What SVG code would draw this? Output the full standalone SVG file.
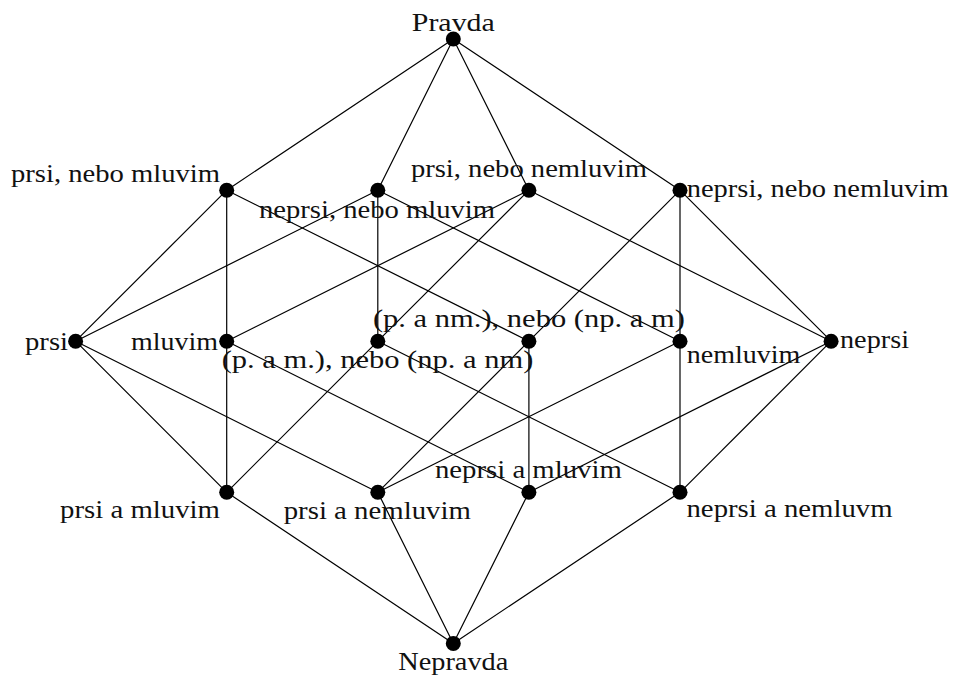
<svg xmlns="http://www.w3.org/2000/svg" width="956" height="677" viewBox="0 0 956 677">
<style>
.e{stroke:#000;stroke-width:1.2;fill:none;stroke-linecap:round}
.d{fill:#000}
text{font-family:"Liberation Serif","DejaVu Serif",serif;font-size:26px;fill:#111}
.m{text-anchor:middle}
.s{text-anchor:start}
</style>
<rect width="956" height="677" fill="#fff"/>
<g id="connectors">
<line class="e" x1="453.3" y1="39" x2="226.7" y2="190.2"/>
<line class="e" x1="453.3" y1="39" x2="377.8" y2="190.2"/>
<line class="e" x1="453.3" y1="39" x2="528.9" y2="190.2"/>
<line class="e" x1="453.3" y1="39" x2="680" y2="190.2"/>
<line class="e" x1="226.7" y1="190.2" x2="75.6" y2="341.2"/>
<line class="e" x1="226.7" y1="190.2" x2="226.7" y2="341.2"/>
<line class="e" x1="226.7" y1="190.2" x2="528.9" y2="341.2"/>
<line class="e" x1="377.8" y1="190.2" x2="75.6" y2="341.2"/>
<line class="e" x1="377.8" y1="190.2" x2="377.8" y2="341.2"/>
<line class="e" x1="377.8" y1="190.2" x2="680" y2="341.2"/>
<line class="e" x1="528.9" y1="190.2" x2="226.7" y2="341.2"/>
<line class="e" x1="528.9" y1="190.2" x2="377.8" y2="341.2"/>
<line class="e" x1="528.9" y1="190.2" x2="831.1" y2="341.2"/>
<line class="e" x1="680" y1="190.2" x2="528.9" y2="341.2"/>
<line class="e" x1="680" y1="190.2" x2="680" y2="341.2"/>
<line class="e" x1="680" y1="190.2" x2="831.1" y2="341.2"/>
<line class="e" x1="75.6" y1="341.2" x2="226.7" y2="492.3"/>
<line class="e" x1="75.6" y1="341.2" x2="377.8" y2="492.3"/>
<line class="e" x1="226.7" y1="341.2" x2="226.7" y2="492.3"/>
<line class="e" x1="226.7" y1="341.2" x2="528.9" y2="492.3"/>
<line class="e" x1="377.8" y1="341.2" x2="226.7" y2="492.3"/>
<line class="e" x1="377.8" y1="341.2" x2="680" y2="492.3"/>
<line class="e" x1="528.9" y1="341.2" x2="377.8" y2="492.3"/>
<line class="e" x1="528.9" y1="341.2" x2="528.9" y2="492.3"/>
<line class="e" x1="680" y1="341.2" x2="377.8" y2="492.3"/>
<line class="e" x1="680" y1="341.2" x2="680" y2="492.3"/>
<line class="e" x1="831.1" y1="341.2" x2="528.9" y2="492.3"/>
<line class="e" x1="831.1" y1="341.2" x2="680" y2="492.3"/>
<line class="e" x1="226.7" y1="492.3" x2="453.3" y2="643.4"/>
<line class="e" x1="377.8" y1="492.3" x2="453.3" y2="643.4"/>
<line class="e" x1="528.9" y1="492.3" x2="453.3" y2="643.4"/>
<line class="e" x1="680" y1="492.3" x2="453.3" y2="643.4"/>
</g>
<g id="n-pravda"><circle class="d" cx="453.3" cy="39" r="7.5"/><text class="m" x="453.3" y="31" textLength="83" lengthAdjust="spacingAndGlyphs">Pravda</text></g>
<g id="n-prsi-nebo-mluvim"><circle class="d" cx="226.7" cy="190.2" r="7.5"/><text class="s" x="11" y="182" textLength="209" lengthAdjust="spacingAndGlyphs">prsi, nebo mluvim</text></g>
<g id="n-neprsi-nebo-mluvim"><circle class="d" cx="377.8" cy="190.2" r="7.5"/><text class="s" x="259" y="218.3" textLength="236" lengthAdjust="spacingAndGlyphs">neprsi, nebo mluvim</text></g>
<g id="n-prsi-nebo-nemluvim"><circle class="d" cx="528.9" cy="190.2" r="7.5"/><text class="m" x="528.9" y="177" textLength="236" lengthAdjust="spacingAndGlyphs">prsi, nebo nemluvim</text></g>
<g id="n-neprsi-nebo-nemluvim"><circle class="d" cx="680" cy="190.2" r="7.5"/><text class="s" x="686.7" y="197" textLength="262" lengthAdjust="spacingAndGlyphs">neprsi, nebo nemluvim</text></g>
<g id="n-prsi"><circle class="d" cx="75.6" cy="341.2" r="7.5"/><text class="s" x="25" y="350" textLength="43" lengthAdjust="spacingAndGlyphs">prsi</text></g>
<g id="n-mluvim"><circle class="d" cx="226.7" cy="341.2" r="7.5"/><text class="s" x="131" y="350" textLength="87" lengthAdjust="spacingAndGlyphs">mluvim</text></g>
<g id="n-pam-npanm"><circle class="d" cx="377.8" cy="341.2" r="7.5"/><text class="m" x="377.5" y="368.3" textLength="311.6" lengthAdjust="spacingAndGlyphs">(p. a m.), nebo (np. a nm)</text></g>
<g id="n-panm-npam"><circle class="d" cx="528.9" cy="341.2" r="7.5"/><text class="m" x="528.9" y="326.7" textLength="312" lengthAdjust="spacingAndGlyphs">(p. a nm.), nebo (np. a m)</text></g>
<g id="n-nemluvim"><circle class="d" cx="680" cy="341.2" r="7.5"/><text class="s" x="686.7" y="363" textLength="113.7" lengthAdjust="spacingAndGlyphs">nemluvim</text></g>
<g id="n-neprsi"><circle class="d" cx="831.1" cy="341.2" r="7.5"/><text class="s" x="840" y="348.3" textLength="69" lengthAdjust="spacingAndGlyphs">neprsi</text></g>
<g id="n-prsi-a-mluvim"><circle class="d" cx="226.7" cy="492.3" r="7.5"/><text class="s" x="60" y="517.7" textLength="160" lengthAdjust="spacingAndGlyphs">prsi a mluvim</text></g>
<g id="n-prsi-a-nemluvim"><circle class="d" cx="377.8" cy="492.3" r="7.5"/><text class="m" x="377.3" y="519" textLength="187.2" lengthAdjust="spacingAndGlyphs">prsi a nemluvim</text></g>
<g id="n-neprsi-a-mluvim"><circle class="d" cx="528.9" cy="492.3" r="7.5"/><text class="m" x="528.4" y="478.3" textLength="187" lengthAdjust="spacingAndGlyphs">neprsi a mluvim</text></g>
<g id="n-neprsi-a-nemluvm"><circle class="d" cx="680" cy="492.3" r="7.5"/><text class="s" x="686.5" y="516.7" textLength="206" lengthAdjust="spacingAndGlyphs">neprsi a nemluvm</text></g>
<g id="n-nepravda"><circle class="d" cx="453.3" cy="643.4" r="7.5"/><text class="m" x="453.3" y="670" textLength="110" lengthAdjust="spacingAndGlyphs">Nepravda</text></g>
</svg>
